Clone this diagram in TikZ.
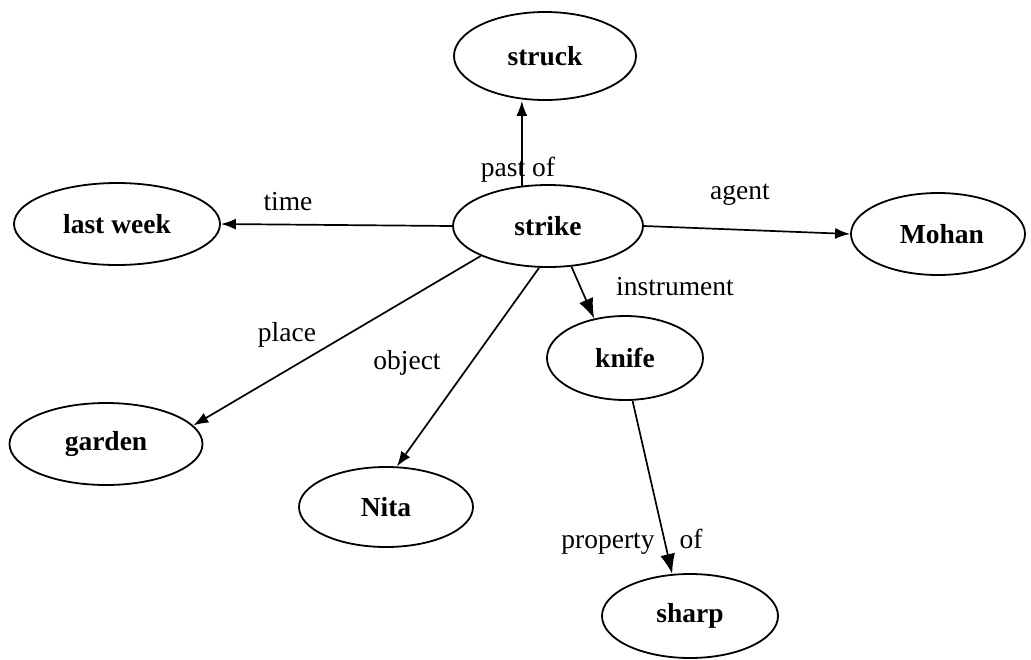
\documentclass[tikz,border=0pt]{standalone}
\usepackage{fontspec}
\setmainfont{Liberation Serif}
\usetikzlibrary{shapes.geometric,arrows.meta}
\tikzset{
  concept/.style={draw, ellipse, line width=1.8pt, inner sep=0pt,
    font=\fontsize{27.5}{30}\selectfont\bfseries},
  rel/.style={font=\fontsize{27.5}{30}\selectfont, inner sep=0pt},
  arr/.style={line width=1.7pt, -{Latex[length=15pt,width=11pt]}},
  bigarr/.style={line width=1.7pt, -{Latex[length=20pt,width=15pt]}}
}
\begin{document}
\begin{tikzpicture}[x=1pt,y=-1pt]
\useasboundingbox[fill=white] (0,0) rectangle (1031,659);
% concepts
\node[concept, minimum width=182pt, minimum height=88pt] (struck) at (545,56) {struck};
\node[concept, minimum width=206pt, minimum height=82pt] (lastweek) at (117,224) {last week};
\node[concept, minimum width=190pt, minimum height=82pt] (strike) at (548,226) {strike};
\node[concept, minimum width=174pt, minimum height=82pt] (mohan) at (938,234) {\hspace{8pt}Mohan};
\node[concept, minimum width=156pt, minimum height=84pt] (knife) at (625,358) {knife};
\node[concept, minimum width=193pt, minimum height=82pt] (garden) at (106,444) {garden};
\node[concept, minimum width=174pt, minimum height=80pt] (nita) at (386,507) {Nita};
\node[concept, minimum width=176pt, minimum height=84pt] (sharp) at (690,616) {sharp};
% connectors
\draw[arr] (strike.123) -- (strike.123 |- struck.south);
\draw[arr] (strike.west) -- (lastweek.east);
\draw[arr] (strike.east) -- (mohan.west);
\draw[bigarr] (strike.-60) -- (knife.128);
\draw[arr] (strike.204) -- (garden.12);
\draw[arr] (strike.258) -- (nita.75);
\draw[bigarr] (knife.280) -- (sharp.113);
% relation labels
\node[rel] (lpast) at (518,170) {past of};
\node[rel] (ltime) at (288,202) {time};
\node[rel] (lagent) at (740,195) {agent};
\node[rel] (linstr) at (675,287) {instrument};
\node[rel] (lplace) at (287,335) {place};
\node[rel] (lobject) at (407,363) {object};
\node[rel] (lprop) at (632,542) {property\hspace{25pt}of};
\end{tikzpicture}
\end{document}
